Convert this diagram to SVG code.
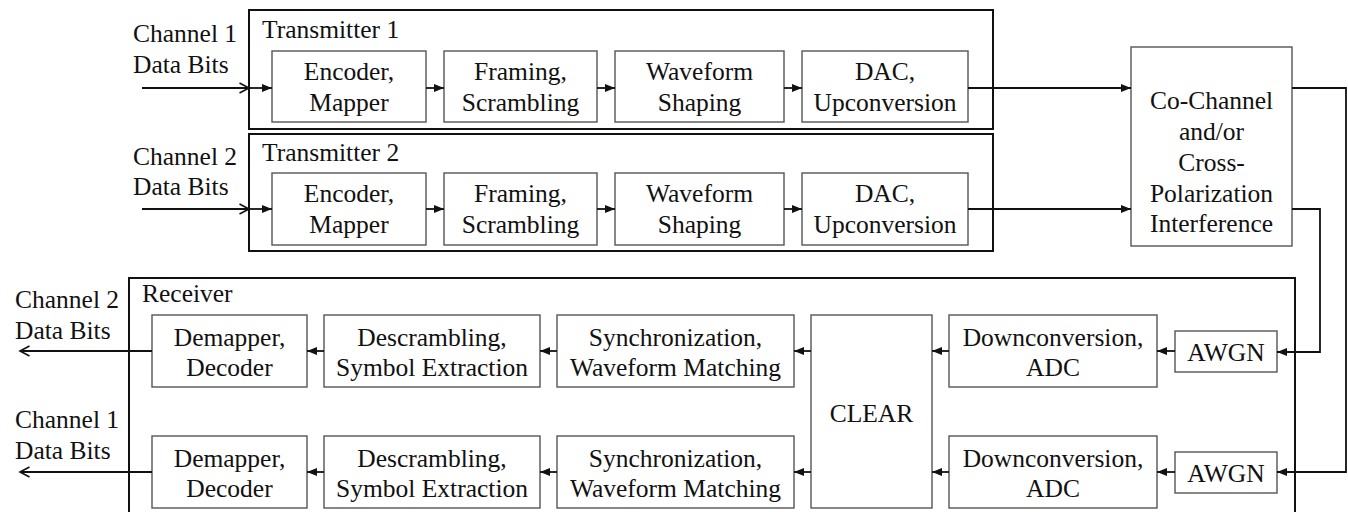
<svg xmlns="http://www.w3.org/2000/svg" width="1348" height="512" viewBox="0 0 1348 512" font-family="Liberation Serif, Times New Roman, serif" font-size="25.5">
<style>
text{font-size:25.5px;fill:#111}
.c{text-anchor:middle}
.box{fill:#fff;stroke:#555;stroke-width:1.4}
.outer{fill:#fff;stroke:#111;stroke-width:2}
.ln{fill:none;stroke:#111;stroke-width:1.8}
</style>
<defs>
<marker id="ah" markerUnits="userSpaceOnUse" markerWidth="11" markerHeight="9" refX="10" refY="4.5" orient="auto">
<path d="M0,0.5 L10,4.5 L0,8.5 z" fill="#111"/>
</marker>
<marker id="oh" markerUnits="userSpaceOnUse" markerWidth="12" markerHeight="12" refX="10" refY="6" orient="auto">
<path d="M0.5,1 L10,6 L0.5,11" fill="none" stroke="#111" stroke-width="1.6"/>
</marker>
</defs>

<g id="transmitter1">
<rect class="outer" x="249" y="10" width="744" height="119"/>
<text x="262" y="38">Transmitter 1</text>
</g>
<g id="transmitter2">
<rect class="outer" x="249" y="134" width="744" height="117"/>
<text x="262" y="161">Transmitter 2</text>
</g>
<g id="receiver">
<rect class="outer" x="129" y="278" width="1166" height="250"/>
<text x="142" y="302">Receiver</text>
</g>

<g id="labels">
<text x="133" y="42">Channel 1</text>
<text x="133" y="73">Data Bits</text>
<text x="133" y="165">Channel 2</text>
<text x="133" y="195">Data Bits</text>
<text x="15" y="308">Channel 2</text>
<text x="15" y="339">Data Bits</text>
<text x="15" y="428">Channel 1</text>
<text x="15" y="459">Data Bits</text>
</g>

<g id="t1-encoder"><rect class="box" x="272" y="51" width="154" height="71"/><text class="c" x="349" y="80">Encoder,</text><text class="c" x="349" y="111">Mapper</text></g>
<g id="t1-framing"><rect class="box" x="444" y="51" width="153" height="71"/><text class="c" x="520.5" y="80">Framing,</text><text class="c" x="520.5" y="111">Scrambling</text></g>
<g id="t1-waveform"><rect class="box" x="615" y="51" width="169" height="71"/><text class="c" x="699.5" y="80">Waveform</text><text class="c" x="699.5" y="111">Shaping</text></g>
<g id="t1-dac"><rect class="box" x="802" y="51" width="166" height="71"/><text class="c" x="885" y="80">DAC,</text><text class="c" x="885" y="111">Upconversion</text></g>

<g id="t2-encoder"><rect class="box" x="272" y="173" width="154" height="72"/><text class="c" x="349" y="202">Encoder,</text><text class="c" x="349" y="233">Mapper</text></g>
<g id="t2-framing"><rect class="box" x="444" y="173" width="153" height="72"/><text class="c" x="520.5" y="202">Framing,</text><text class="c" x="520.5" y="233">Scrambling</text></g>
<g id="t2-waveform"><rect class="box" x="615" y="173" width="169" height="72"/><text class="c" x="699.5" y="202">Waveform</text><text class="c" x="699.5" y="233">Shaping</text></g>
<g id="t2-dac"><rect class="box" x="802" y="173" width="166" height="72"/><text class="c" x="885" y="202">DAC,</text><text class="c" x="885" y="233">Upconversion</text></g>

<g id="interference"><rect class="box" x="1131" y="47" width="161" height="199"/>
<text class="c" x="1211.5" y="109">Co-Channel</text>
<text class="c" x="1211.5" y="140">and/or</text>
<text class="c" x="1211.5" y="171">Cross-</text>
<text class="c" x="1211.5" y="202">Polarization</text>
<text class="c" x="1211.5" y="232">Interference</text>
</g>

<g id="r1-demapper"><rect class="box" x="152" y="315" width="155" height="72"/><text class="c" x="229.5" y="346">Demapper,</text><text class="c" x="229.5" y="376">Decoder</text></g>
<g id="r1-descrambling"><rect class="box" x="324" y="315" width="216" height="72"/><text class="c" x="432" y="346">Descrambling,</text><text class="c" x="432" y="376">Symbol Extraction</text></g>
<g id="r1-sync"><rect class="box" x="557" y="315" width="237" height="72"/><text class="c" x="675.5" y="346">Synchronization,</text><text class="c" x="675.5" y="376">Waveform Matching</text></g>
<g id="clear"><rect class="box" x="811" y="315" width="121" height="193"/><text class="c" x="871.5" y="422">CLEAR</text></g>
<g id="r1-down"><rect class="box" x="949" y="315" width="208" height="72"/><text class="c" x="1053" y="346">Downconversion,</text><text class="c" x="1053" y="376">ADC</text></g>
<g id="r1-awgn"><rect class="box" x="1175" y="331" width="102" height="41"/><text class="c" x="1226" y="361">AWGN</text></g>

<g id="r2-demapper"><rect class="box" x="152" y="436" width="155" height="72"/><text class="c" x="229.5" y="467">Demapper,</text><text class="c" x="229.5" y="497">Decoder</text></g>
<g id="r2-descrambling"><rect class="box" x="324" y="436" width="216" height="72"/><text class="c" x="432" y="467">Descrambling,</text><text class="c" x="432" y="497">Symbol Extraction</text></g>
<g id="r2-sync"><rect class="box" x="557" y="436" width="237" height="72"/><text class="c" x="675.5" y="467">Synchronization,</text><text class="c" x="675.5" y="497">Waveform Matching</text></g>
<g id="r2-down"><rect class="box" x="949" y="436" width="208" height="72"/><text class="c" x="1053" y="467">Downconversion,</text><text class="c" x="1053" y="497">ADC</text></g>
<g id="r2-awgn"><rect class="box" x="1175" y="452" width="102" height="41"/><text class="c" x="1226" y="482">AWGN</text></g>

<g id="connectors">
<line class="ln" x1="142" y1="88" x2="249" y2="88" marker-end="url(#oh)"/>
<line class="ln" x1="249" y1="88" x2="272" y2="88" marker-end="url(#ah)"/>
<line class="ln" x1="426" y1="88" x2="444" y2="88" marker-end="url(#ah)"/>
<line class="ln" x1="597" y1="88" x2="615" y2="88" marker-end="url(#ah)"/>
<line class="ln" x1="784" y1="88" x2="802" y2="88" marker-end="url(#ah)"/>
<line class="ln" x1="968" y1="88" x2="1131" y2="88" marker-end="url(#ah)"/>
<line class="ln" x1="142" y1="209" x2="249" y2="209" marker-end="url(#oh)"/>
<line class="ln" x1="249" y1="209" x2="272" y2="209" marker-end="url(#ah)"/>
<line class="ln" x1="426" y1="209" x2="444" y2="209" marker-end="url(#ah)"/>
<line class="ln" x1="597" y1="209" x2="615" y2="209" marker-end="url(#ah)"/>
<line class="ln" x1="784" y1="209" x2="802" y2="209" marker-end="url(#ah)"/>
<line class="ln" x1="968" y1="209" x2="1131" y2="209" marker-end="url(#ah)"/>
<polyline class="ln" points="1292,88 1346,88 1346,472 1277,472" marker-end="url(#ah)"/>
<polyline class="ln" points="1292,209 1320,209 1320,352 1277,352" marker-end="url(#ah)"/>
<line class="ln" x1="1175" y1="351" x2="1157" y2="351" marker-end="url(#ah)"/>
<line class="ln" x1="949" y1="351" x2="932" y2="351" marker-end="url(#ah)"/>
<line class="ln" x1="811" y1="351" x2="794" y2="351" marker-end="url(#ah)"/>
<line class="ln" x1="557" y1="351" x2="540" y2="351" marker-end="url(#ah)"/>
<line class="ln" x1="324" y1="351" x2="307" y2="351" marker-end="url(#ah)"/>
<line class="ln" x1="152" y1="351" x2="20" y2="351" marker-end="url(#oh)"/>
<line class="ln" x1="1175" y1="472" x2="1157" y2="472" marker-end="url(#ah)"/>
<line class="ln" x1="949" y1="472" x2="932" y2="472" marker-end="url(#ah)"/>
<line class="ln" x1="811" y1="472" x2="794" y2="472" marker-end="url(#ah)"/>
<line class="ln" x1="557" y1="472" x2="540" y2="472" marker-end="url(#ah)"/>
<line class="ln" x1="324" y1="472" x2="307" y2="472" marker-end="url(#ah)"/>
<line class="ln" x1="152" y1="472" x2="20" y2="472" marker-end="url(#oh)"/>
</g>
</svg>
